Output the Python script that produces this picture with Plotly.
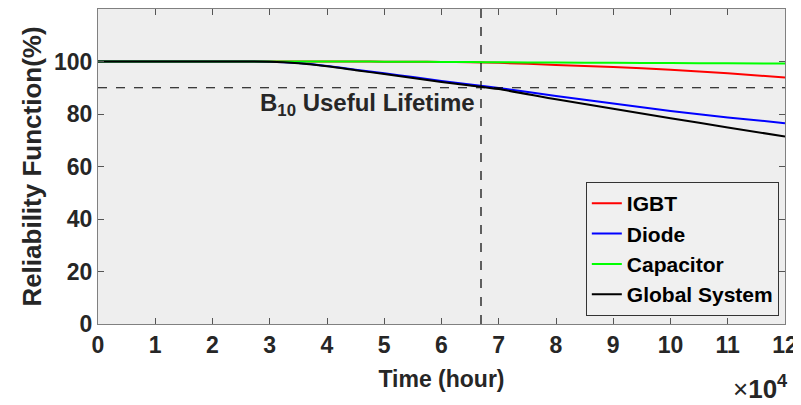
import plotly.graph_objects as go

# Time in hours
time_h = [0, 10000, 20000, 30000, 35000, 40000, 45000, 50000, 55000, 60000,
          65000, 70000, 80000, 90000, 100000, 110000, 120000]

igbt = [100, 100, 100, 100, 100, 100, 100, 99.95, 99.9, 99.85,
        99.7, 99.5, 98.7, 97.9, 96.9, 95.5, 93.9]
diode = [100, 100, 100, 99.95, 99.4, 98.3, 96.9, 95.5, 94.1, 92.6,
         91.2, 89.9, 86.9, 84.0, 81.1, 78.7, 76.5]
capacitor = [100, 100, 100, 100, 100, 100, 99.98, 99.95, 99.9, 99.85,
             99.8, 99.7, 99.6, 99.5, 99.4, 99.3, 99.2]
global_sys = [100, 100, 100, 99.9, 99.3, 98.2, 96.7, 95.2, 93.7, 92.2,
              90.9, 89.5, 85.6, 82.0, 78.4, 74.9, 71.4]

series_names = ["IGBT", "Diode", "Capacitor", "Global System"]
series_colors = ["#ff0000", "#0000ff", "#00ff00", "#000000"]

x_tickvals = [i * 10000 for i in range(13)]
x_ticktext = [str(i) for i in range(13)]
y_tickvals = [0, 20, 40, 60, 80, 100]

B10_LEVEL = 90
B10_TIME = 66900

FONT = "Liberation Sans, Arial, sans-serif"
TXT = "#262626"

fig = go.Figure()
for name, vals, col in zip(series_names, [igbt, diode, capacitor, global_sys], series_colors):
    fig.add_trace(go.Scatter(x=time_h, y=vals, mode="lines", name=name,
                             line=dict(color=col, width=2, shape="spline", smoothing=0.6)))

fig.add_shape(type="line", xref="x", yref="y", x0=0, x1=120000, y0=B10_LEVEL, y1=B10_LEVEL,
              line=dict(color="black", width=1.2, dash="dash"), layer="above")
fig.add_shape(type="line", xref="x", yref="y", x0=B10_TIME, x1=B10_TIME, y0=0, y1=120,
              line=dict(color="black", width=1.2, dash="dash"), layer="above")

fig.add_annotation(x=B10_TIME, y=83.7, xref="x", yref="y", showarrow=False,
                   xanchor="right", xshift=-4,
                   text="<b>B<sub>10</sub> Useful Lifetime</b>",
                   font=dict(family=FONT, size=24, color=TXT))
fig.add_annotation(x=1.007, y=-0.2, xref="paper", yref="paper", showarrow=False,
                   xanchor="right", yanchor="middle",
                   text="<span style='font-weight:normal'>×</span><b>10<sup>4</sup></b>",
                   font=dict(family=FONT, size=26, color=TXT, weight="normal"))

fig.update_layout(
    template="none",
    width=793, height=397,
    margin=dict(l=90, r=16, t=1, b=81),
    paper_bgcolor="white",
    plot_bgcolor="#eeeeee",
    font=dict(family=FONT, color=TXT, size=23, weight="bold"),
    showlegend=True,
    legend=dict(x=0.991, y=0.025, xanchor="right", yanchor="bottom",
                bgcolor="#f0f0f0", bordercolor="#333333", borderwidth=1,
                font=dict(family=FONT, size=21, color="black", weight="bold"),
                itemwidth=30, tracegroupgap=0),
)
fig.update_xaxes(range=[0, 120000], tickvals=x_tickvals, ticktext=x_ticktext,
                 automargin=False,
                 ticks="inside", ticklen=6, tickcolor="#555555", showgrid=False,
                 zeroline=False, showline=True, linecolor="#808080", linewidth=1,
                 mirror="ticks", title=dict(text="Time (hour)", standoff=14,
                                            font=dict(size=23, weight="bold")),
                 tickfont=dict(size=23, weight="bold"))
fig.update_yaxes(range=[0, 120], tickvals=y_tickvals,
                 automargin=False,
                 ticks="inside", ticklen=6, tickcolor="#555555", showgrid=False,
                 zeroline=False, showline=True, linecolor="#808080", linewidth=1,
                 mirror="ticks", title=dict(text="Reliability Function(%)", standoff=4,
                                            font=dict(size=26, weight="bold")),
                 tickfont=dict(size=23, weight="bold"))

fig.write_html("out.html")
